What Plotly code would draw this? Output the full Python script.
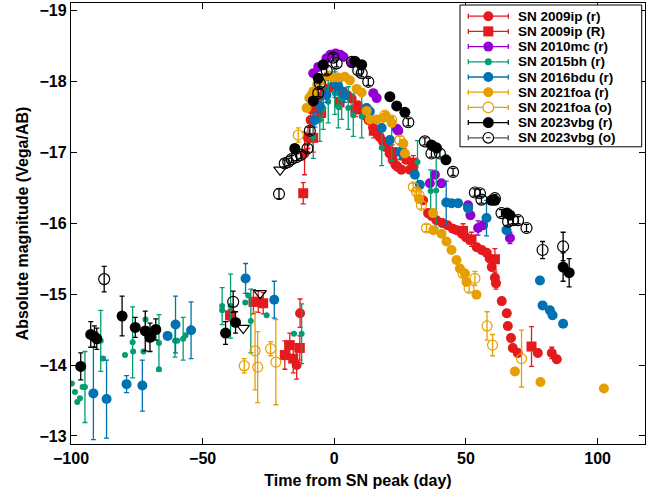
import plotly.graph_objects as go

# ---------------- data (time from SN peak [day], absolute magnitude, error) ----------------
ip_r_x = [-14.3, -13.0, -11.3, -10.0, -9.0, -8.0, -7.0, -5.5, -3.6, -2.0, 0.0, 1.5, 3.3, 5.0, 6.6,
          8.9, 10.5, 11.6, 13.0, 14.7, 16.0, 17.3, 18.5, 19.6, 21.0, 22.2, 23.2, 24.1, 25.5, 27.4,
          28.7, 30.0, 33.7, 35.6, 37.0, 38.8, 41.0, 43.0, 45.0, 46.5, 48.5, 50.0, 51.5, 54.1, 56.0,
          57.9, 59.0, 59.8, 61.0, 61.4, 63.6, 65.5, 65.9, 67.1, 67.8, 69.7, 77.3, 82.6, 84.5]
ip_r_y = [-14.00, -14.73, -16.98, -17.20, -17.45, -17.60, -17.70, -17.78, -17.85, -17.90, -17.95,
          -17.92, -17.85, -17.80, -17.75, -17.66, -17.60, -17.52, -17.45, -17.35, -17.28, -17.21,
          -17.15, -17.07, -16.98, -16.89, -16.82, -16.79, -16.75, -16.89, -16.75, -16.79, -16.32,
          -16.14, -16.10, -16.04, -16.00, -15.97, -15.92, -15.90, -15.85, -15.80, -15.76, -15.66,
          -15.62, -15.58, -15.50, -15.38, -15.23, -15.15, -14.90, -14.73, -14.55, -14.38, -14.24,
          -14.17, -14.17, -14.17, -14.08]
ip_r_e = [0.2, 0.2, 0.3, 0.15, 0.1, 0.08, 0.05, 0.05, 0.05, 0.05, 0.05, 0.05, 0.05, 0.05, 0.05,
          0.05, 0.05, 0.05, 0.05, 0.05, 0.05, 0.05, 0.05, 0.05, 0.05, 0.05, 0.05, 0.05, 0.05, 0.05,
          0.05, 0.05, 0.05, 0.05, 0.05, 0.05, 0.05, 0.05, 0.05, 0.05, 0.05, 0.05, 0.05, 0.05, 0.05,
          0.05, 0.05, 0.05, 0.08, 0.08, 0.05, 0.05, 0.05, 0.05, 0.05, 0.05, 0.05, 0.08, 0.05]

ip_R_x = [-39.6, -30.7, -28.9, -27.0, -18.8, -16.9, -15.6, -13.1, -11.8, -8.0, -5.0, 2.0, 8.0,
          15.0, 22.0, 26.5, 30.0, 48.9, 52.1, 61.0, 74.9]
ip_R_y = [-14.70, -14.89, -14.89, -14.87, -14.14, -14.28, -14.09, -14.24, -16.42, -17.20, -17.55,
          -17.70, -17.60, -17.30, -17.00, -16.95, -16.85, -15.89, -15.77, -15.49, -14.26]
ip_R_e = [0.08, 0.17, 0.15, 0.15, 0.2, 0.17, 0.2, 0.17, 0.15, 0.2, 0.1, 0.1, 0.1, 0.1, 0.1, 0.1,
          0.1, 0.1, 0.1, 0.15, 0.28]

mc_x = [-8.0, -6.1, -3.0, -1.5, 0.5, 2.3, 3.5, 6.6, 14.8, 16.1, 23.7, 24.3, 36.3, 38.2, 40.7,
        50.8, 51.7, 54.6, 56.5, 66.7]
mc_y = [-18.11, -18.20, -18.32, -18.37, -18.39, -18.37, -18.34, -18.25, -17.83, -17.76, -17.33,
        -17.30, -16.56, -16.68, -16.56, -16.25, -16.11, -15.93, -15.97, -15.79]
mc_e = [0.03, 0.03, 0.03, 0.03, 0.03, 0.03, 0.03, 0.03, 0.03, 0.03, 0.03, 0.03, 0.05, 0.05, 0.05,
        0.05, 0.05, 0.1, 0.05, 0.08]

bh_x = [-99.7, -98.5, -97.6, -96.6, -95.6, -94.7, -88.7, -87.8, -79.5, -76.6, -76.4, -72.5, -71.7,
        -66.6, -66.6, -60.5, -59.6, -57.4, -56.5, -42.6, -42.6, -39.4, -33.8, -32.7, -31.7, -25.7,
        -15.3, -12.4, -8.0, -5.5, -4.2, -2.3, 0.2, 1.5, 2.8, 5.3, 7.2, 10.4, 18.0, 21.8, 31.6,
        36.6, 38.7]
bh_y = [-13.74, -13.62, -13.48, -13.53, -13.69, -13.69, -14.34, -14.09, -14.14, -14.32, -14.19,
        -14.19, -14.64, -14.31, -13.94, -14.34, -14.34, -14.37, -14.42, -14.83, -14.77, -14.83,
        -14.88, -14.98, -14.62, -14.70, -14.44, -14.44, -17.21, -17.45, -17.62, -17.71, -17.83,
        -17.64, -17.76, -17.62, -17.52, -17.50, -17.06, -17.18, -16.86, -16.45, -16.46]
bh_e = [0.0, 0.0, 0.0, 0.0, 0.0, 0.5, 0.43, 0.0, 0.0, 0.5, 0.0, 0.0, 0.0, 0.4, 0.0, 0.23, 0.0, 0.3,
        0.0, 0.26, 0.0, 0.45, 0.0, 0.0, 0.45, 0.0, 0.0, 0.42, 0.3, 0.3, 0.3, 0.3, 0.3, 0.3, 0.3,
        0.3, 0.3, 0.3, 0.25, 0.3, 0.3, 0.3, 0.53]

bdu_x = [-91.5, -86.5, -78.9, -72.9, -63.3, -60.3, -54.4, -33.7, -22.8, -7.4, -5.5, -3.0, 0.2,
         1.5, 4.0, 12.3, 13.5, 18.0, 21.1, 24.9, 30.6, 32.5, 42.5, 44.5, 47.0, 50.8, 57.8, 65.4,
         78.1, 79.1, 81.9, 82.9, 86.9]
bdu_y = [-13.60, -13.52, -13.73, -13.71, -14.41, -14.57, -14.49, -15.22, -14.92, -17.45, -17.65,
         -17.80, -17.97, -17.92, -17.80, -17.62, -17.57, -17.34, -17.17, -17.00, -16.68, -16.54,
         -16.29, -16.28, -16.28, -16.21, -16.07, -15.90, -15.19, -14.84, -14.77, -14.70, -14.58]
bdu_e = [0.65, 0.55, 0.12, 0.36, 0.05, 0.4, 0.4, 0.21, 0.26, 0.1, 0.1, 0.1, 0.2, 0.1, 0.1, 0.05,
         0.05, 0.05, 0.05, 0.1, 0.05, 0.05, 0.3, 0.05, 0.05, 0.05, 0.25, 0.05, 0.05, 0.05, 0.05,
         0.05, 0.05]

foa_r_x = [-10.5, -9.5, -8.0, -6.5, -4.8, -2.3, -0.5, 1.5, 4.0, 5.9, 8.5, 10.4, 12.3, 13.5, 16.1,
           18.6, 19.5, 21.8, 26.2, 26.8, 32.2, 37.5, 37.6, 40.7, 42.6, 44.5, 46.4, 47.7, 49.6,
           50.2, 54.0, 68.6, 78.3, 102.4]
foa_r_y = [-17.62, -17.76, -17.85, -17.95, -18.01, -18.08, -18.05, -18.05, -18.06, -18.01, -17.89,
           -17.84, -17.58, -17.46, -17.46, -17.48, -17.50, -17.41, -17.12, -16.98, -16.34, -16.14,
           -15.90, -15.85, -15.74, -15.62, -15.48, -15.36, -15.29, -15.17, -14.99, -13.91, -13.76,
           -13.67]

foa_o_x = [-34.2, -30.1, -29.1, -24.2, -22.2, -13.7, -8.5, 19.2, 21.8, 24.9, 30.0, 31.2, 32.2,
           33.1, 35.0, 48.9, 51.2, 53.4, 58.0, 60.1, 71.1]
foa_o_y = [-13.99, -14.20, -13.97, -14.23, -14.04, -17.24, -17.80, -17.52, -17.45, -17.17, -16.51,
           -16.44, -16.39, -16.25, -15.93, -15.29, -15.08, -15.22, -14.55, -14.28, -14.09]
foa_o_e = [0.1, 0.55, 0.5, 0.1, 0.6, 0.1, 0.1, 0.05, 0.05, 0.05, 0.05, 0.05, 0.05, 0.05, 0.05,
           0.05, 0.05, 0.1, 0.2, 0.15, 0.4]

vbg_r_x = [-96.3, -92.5, -91.1, -90.2, -80.6, -75.6, -71.8, -70.0, -67.8, -41.3, -37.5, -15.0,
           -8.0, -6.1, -4.2, 7.8, 10.4, 21.1, 23.7, 26.8, 36.9, 38.8, 42.4, 59.7, 61.0, 65.6, 66.7,
           86.9, 89.2]
vbg_r_y = [-13.98, -14.43, -14.40, -14.37, -14.69, -14.53, -14.48, -14.39, -14.50, -14.45, -14.60,
           -17.05, -17.72, -18.04, -18.23, -18.28, -18.23, -17.78, -17.65, -17.56, -17.10, -17.06,
           -16.89, -16.32, -16.32, -16.14, -16.11, -15.38, -15.30]
vbg_r_e = [0.19, 0.18, 0.15, 0.15, 0.28, 0.14, 0.28, 0.2, 0.15, 0.16, 0.15, 0.04, 0.04, 0.04, 0.04,
           0.04, 0.04, 0.04, 0.04, 0.04, 0.04, 0.04, 0.04, 0.04, 0.04, 0.04, 0.04, 0.2, 0.2]

vbg_o_x = [-87.4, -38.4, -21.0, -18.8, -17.5, -16.2, -14.3, -12.7, -10.2, -9.3, -6.1, -5.5, -2.9,
           -0.4, 0.9, 6.7, 9.1, 10.4, 12.9, 28.1, 34.4, 36.9, 40.1, 45.1, 53.4, 55.3, 55.9, 61.0,
           63.5, 66.0, 67.9, 69.8, 73.0, 79.1, 86.9]
vbg_o_y = [-15.21, -14.89, -16.41, -16.84, -16.86, -16.90, -16.93, -16.96, -17.05, -17.30, -17.83,
           -17.97, -18.15, -18.33, -18.25, -18.27, -18.15, -18.11, -17.99, -17.42, -17.15, -16.98,
           -16.98, -16.72, -16.43, -16.42, -16.33, -16.35, -16.14, -16.02, -16.04, -16.04, -15.93,
           -15.62, -15.67]
vbg_o_e = [0.18, 0.15, 0.07, 0.05, 0.05, 0.05, 0.05, 0.05, 0.05, 0.05, 0.05, 0.05, 0.05, 0.05,
           0.05, 0.05, 0.05, 0.05, 0.05, 0.05, 0.05, 0.05, 0.05, 0.05, 0.05, 0.05, 0.05, 0.05,
           0.05, 0.05, 0.05, 0.05, 0.05, 0.12, 0.2]

vbg_lim_x = [-34.6, -28.2, -20.6]
vbg_lim_y = [-14.52, -15.01, -16.75]

legend_names = ["SN 2009ip (r)", "SN 2009ip (R)", "SN 2010mc (r)", "SN 2015bh (r)",
                "SN 2016bdu (r)", "SN 2021foa (r)", "SN 2021foa (o)", "SN 2023vbg (r)",
                "SN 2023vbg (o)"]

# ---------------- styling ----------------
RED = "#e41a1c"
PURPLE = "#9400d3"
GREEN = "#009e73"
BLUE = "#0072b2"
ORANGE = "#e69f00"
BLACK = "#000000"
GREY = "#555555"
FONT = dict(family="Liberation Sans, Arial, sans-serif", size=16, color="black", weight="bold")

fig = go.Figure()


def add(x, y, e, color, symbol, size, open_=False):
    err = dict(type="data", array=e, color=color, thickness=1.3, width=2.5, visible=True) if e else None
    marker = dict(color=color, symbol=symbol, size=size)
    if open_:
        marker["line"] = dict(color=color, width=1.2)
    fig.add_trace(go.Scatter(x=x, y=y, mode="markers", marker=marker, error_y=err,
                             showlegend=False, hoverinfo="skip"))


add(ip_r_x, ip_r_y, ip_r_e, RED, "circle", 10)
add(ip_R_x, ip_R_y, ip_R_e, RED, "square", 10)
add(mc_x, mc_y, mc_e, PURPLE, "circle", 10)
add(bh_x, bh_y, bh_e, GREEN, "circle", 6)
add(bdu_x, bdu_y, bdu_e, BLUE, "circle", 10)
add(foa_r_x, foa_r_y, None, ORANGE, "circle", 10)
add(foa_o_x, foa_o_y, foa_o_e, ORANGE, "circle-open", 10, open_=True)
add(vbg_r_x, vbg_r_y, vbg_r_e, BLACK, "circle", 11)
add(vbg_o_x, vbg_o_y, vbg_o_e, BLACK, "circle-open", 11, open_=True)
fig.add_trace(go.Scatter(x=vbg_lim_x, y=vbg_lim_y, mode="markers",
                         marker=dict(symbol="triangle-down-open", size=11, color=BLACK,
                                     line=dict(width=1.2, color=BLACK)),
                         showlegend=False, hoverinfo="skip"))

# ---------------- hand-drawn legend box (pixel offsets from the top-right plot corner) ----------------
legend_line_cols = [RED, RED, PURPLE, GREEN, BLUE, ORANGE, ORANGE, BLACK, GREY]
legend_kinds = ["fc", "sq", "fc", "sm", "fc", "fc", "oc", "fc", "oc"]
ROW0, ROWSTEP = -13.2, 15.2
shapes = []


def pshape(kind, x0, y0, x1, y1, line=None, fill=None):
    d = dict(type=kind, xref="paper", yref="paper", xsizemode="pixel", ysizemode="pixel",
             xanchor=1, yanchor=1, x0=x0, x1=x1, y0=y0, y1=y1, layer="above")
    d["line"] = line if line else dict(width=0)
    if fill:
        d["fillcolor"] = fill
    return d


box_bottom = ROW0 - ROWSTEP * (len(legend_names) - 1) - 9
shapes.append(pshape("rect", -185, -2, -3.3, box_bottom, line=dict(color="black", width=1), fill="white"))
annotations = []
for i, name in enumerate(legend_names):
    yc = ROW0 - ROWSTEP * i
    col = legend_line_cols[i]
    kind = legend_kinds[i]
    shapes.append(pshape("line", -176.7, yc, -136.7, yc, line=dict(color=col, width=1.3)))
    shapes.append(pshape("line", -176.7, yc - 2.5, -176.7, yc + 2.5, line=dict(color=col, width=1.3)))
    shapes.append(pshape("line", -136.7, yc - 2.5, -136.7, yc + 2.5, line=dict(color=col, width=1.3)))
    mcol = BLACK if i == 8 else col
    if kind == "fc":
        r = 5.5 if i == 7 else 5
        shapes.append(pshape("circle", -156.7 - r, yc - r, -156.7 + r, yc + r, fill=mcol))
    elif kind == "sm":
        shapes.append(pshape("circle", -160.2, yc - 3.5, -153.2, yc + 3.5, fill=mcol))
    elif kind == "sq":
        shapes.append(pshape("rect", -161.7, yc - 5, -151.7, yc + 5, fill=mcol))
    else:
        shapes.append(pshape("circle", -162, yc - 5.3, -151.4, yc + 5.3,
                             line=dict(color=mcol, width=1.2), fill="white"))
        if i == 8:
            shapes.append(pshape("line", -159, yc, -154.4, yc, line=dict(color=mcol, width=1)))
    annotations.append(dict(text=name, xref="paper", yref="paper", x=1, y=1, xanchor="left",
                            yanchor="middle", xshift=-127.7, yshift=yc, showarrow=False,
                            borderpad=0, font=dict(FONT, size=13.5)))

axis_common = dict(showline=True, linecolor="black", linewidth=1.3, mirror="ticks",
                   ticks="inside", ticklen=6, tickwidth=1, tickcolor="black",
                   showgrid=False, zeroline=False, tickfont=FONT, automargin=False)

fig.update_layout(
    width=647, height=497,
    margin=dict(l=71, r=2, t=3, b=53),
    paper_bgcolor="white", plot_bgcolor="white",
    font=FONT,
    showlegend=False,
    shapes=shapes,
    annotations=annotations,
    xaxis=dict(range=[-100, 118], tickvals=[-100, -50, 0, 50, 100],
               title=dict(text="Time from SN peak (day)", font=FONT, standoff=8), **axis_common),
    yaxis=dict(range=[-12.887, -19.1], tickvals=[-19, -18, -17, -16, -15, -14, -13],
               title=dict(text="Absolute magnitude (Vega/AB)", font=FONT, standoff=6), **axis_common),
)

fig.write_html("out.html", config={"displayModeBar": False},
               post_script="document.body.style.margin='0px';")
